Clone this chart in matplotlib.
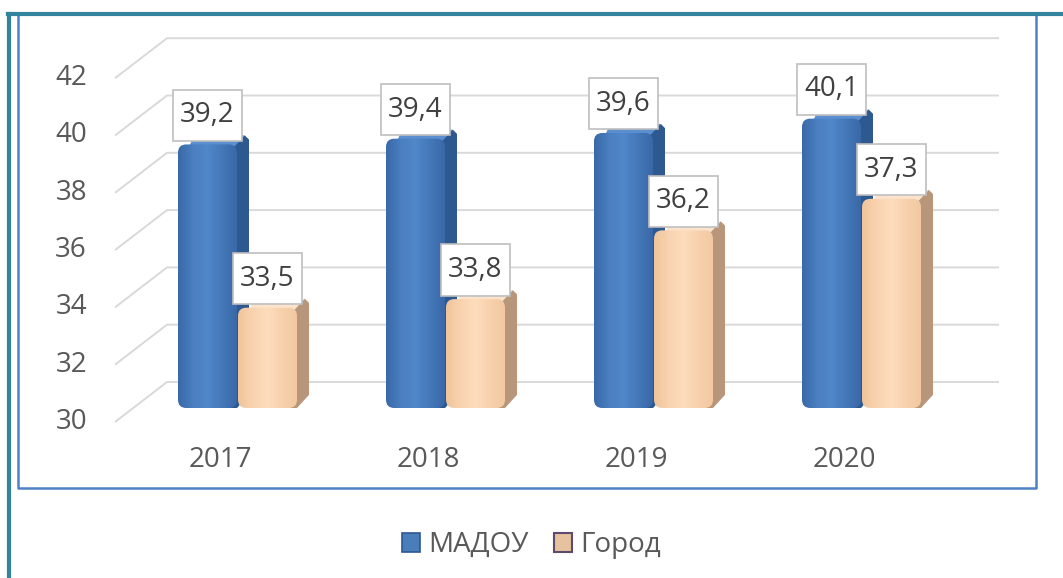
import numpy as np
import matplotlib.pyplot as plt
from matplotlib.patches import Polygon, FancyBboxPatch, Patch
from matplotlib.colors import LinearSegmentedColormap
from matplotlib.lines import Line2D
from matplotlib.path import Path

# data
years = ['2017', '2018', '2019', '2020']
madou = [39.2, 39.4, 39.6, 40.1]
gorod = [33.5, 33.8, 36.2, 37.3]
yticks = [30, 32, 34, 36, 38, 40, 42]
names = ['МАДОУ', 'Город']

W, H = 1063, 578
plt.rcParams['font.family'] = ['Open Sans', 'DejaVu Sans']
FS = 20
GRAY = '#595959'

fig = plt.figure(figsize=(W / 100, H / 100), dpi=100)
ax = fig.add_axes([0, 0, 1, 1])
ax.axis('off')

# scale: pixels per category / per unit
px_x, px_y = 208.0, 28.65
base = yticks[0]

# oblique depth of the floor/walls
dep_x, dep_y = 52 / px_x, 40 / px_y
fx, fy = -105 / px_x, -14 / px_y      # front edge of the grid
x_end = len(years) - 1 + 155 / px_x    # right end of back wall

for v in yticks:
    ax.plot([fx, fx + dep_x, x_end],
            [v + fy, v + fy + dep_y, v + fy + dep_y],
            color='#d9d9d9', lw=1.4, zorder=1, solid_capstyle='butt')
    ax.text(fx - 28 / px_x, v + fy, str(v), ha='right', va='center',
            fontsize=FS, color=GRAY)

bw = 59 / px_x
sdx, sdy = 12 / px_x, 9 / px_y

blue_cm = LinearSegmentedColormap.from_list(
    'b', ['#3a69a8', '#4a7fc0', '#5088c9', '#4479b9', '#3a68a6'])
org_cm = LinearSegmentedColormap.from_list(
    'o', ['#efc49c', '#f9d3b0', '#fddcbd', '#f8d1ac', '#f1c8a1'])
grad = np.linspace(0, 1, 64).reshape(1, -1)


def draw_bar(x0, v, cm, top_c, side_c, z):
    x1 = x0 + bw
    rs = 0.04
    ry = rs * px_x / px_y
    # side face
    ax.add_patch(Polygon([(x1 - rs, base), (x1, base), (x1 + sdx, base + sdy + ry * 0.5),
                          (x1 + sdx, v + sdy - ry * 0.5), (x1 + sdx - rs * 0.5, v + sdy),
                          (x1 - rs, v)],
                         fc=side_c, ec='none', zorder=z))
    # top face
    ax.add_patch(Polygon([(x0 + rs, v - ry), (x0 + sdx + rs * 0.5, v + sdy),
                          (x1 + sdx - rs * 0.5, v + sdy), (x1 - rs, v - ry)],
                         fc=top_c, ec='none', zorder=z))
    front = FancyBboxPatch((x0, base), bw, v - base,
                           boxstyle=f'round,pad=0,rounding_size={rs}',
                           mutation_aspect=px_x / px_y,
                           fc='none', ec='none', zorder=z)
    ax.add_patch(front)
    img = ax.imshow(grad, cmap=cm, extent=(x0, x1, base, v),
                    aspect='auto', zorder=z + 0.1, interpolation='bilinear')
    img.set_clip_path(front)


def label_box(x0, y0, width, height, mutation_size):
    px, py = 0.27 * mutation_size, 0.42 * mutation_size
    x0, y0 = x0 - px, y0 - py
    x1, y1 = x0 + width + 2 * px, y0 + height + 2 * py
    return Path([(x0, y0), (x1, y0), (x1, y1), (x0, y1), (x0, y0)], closed=True)


def label(x, v):
    ax.annotate(f'{v:.1f}'.replace('.', ','), xy=(x, v), xytext=(0, 21),
                textcoords='offset points', ha='center', va='center',
                fontsize=FS, color='#404040', zorder=10,
                bbox=dict(boxstyle=label_box, fc='white',
                          ec='#bfbfbf', lw=1.2))


for i in range(len(years)):
    xb = i - 42 / px_x
    xo = i + 18 / px_x
    draw_bar(xb, madou[i], blue_cm, '#5b8fd0', '#2d5890', 3 + i)
    draw_bar(xo, gorod[i], org_cm, '#fde3cc', '#b8967a', 3.5 + i)
    label(xb + bw / 2, madou[i])
    label(xo + bw / 2, gorod[i])
    ax.text(i, base - 52 / px_y, years[i], ha='center', va='center',
            fontsize=FS, color=GRAY)

ax.set_xlim(-220 / px_x, (W - 220) / px_x)
ax.set_ylim(base - (H - 408) / px_y, base + 408 / px_y)

# legend
handles = [Patch(fc='#4a7ebb', ec='#2d5890', lw=1.2),
           Patch(fc='#e6c29f', ec='#5e4a6e', lw=1.5)]
fig.legend(handles, names, loc='center', bbox_to_anchor=(0.5, 1 - 545 / H),
           ncol=2, frameon=False, fontsize=FS, labelcolor=GRAY,
           handlelength=0.65, handleheight=0.65, handletextpad=0.3,
           columnspacing=0.9)

# chart frame lines
def fline(xs, ys, c, lw):
    fig.add_artist(Line2D([x / W for x in xs], [1 - y / H for y in ys],
                          color=c, lw=lw, transform=fig.transFigure))

fline([17.5, 17.5, 1035.5, 1035.5], [15, 488, 488, 15], '#4f81c7', 1.8)
fline([9, 9], [14, H], '#31849b', 3)
fline([8, W], [14, 14], '#31849b', 3)

fig.savefig('out.png', dpi=100)
